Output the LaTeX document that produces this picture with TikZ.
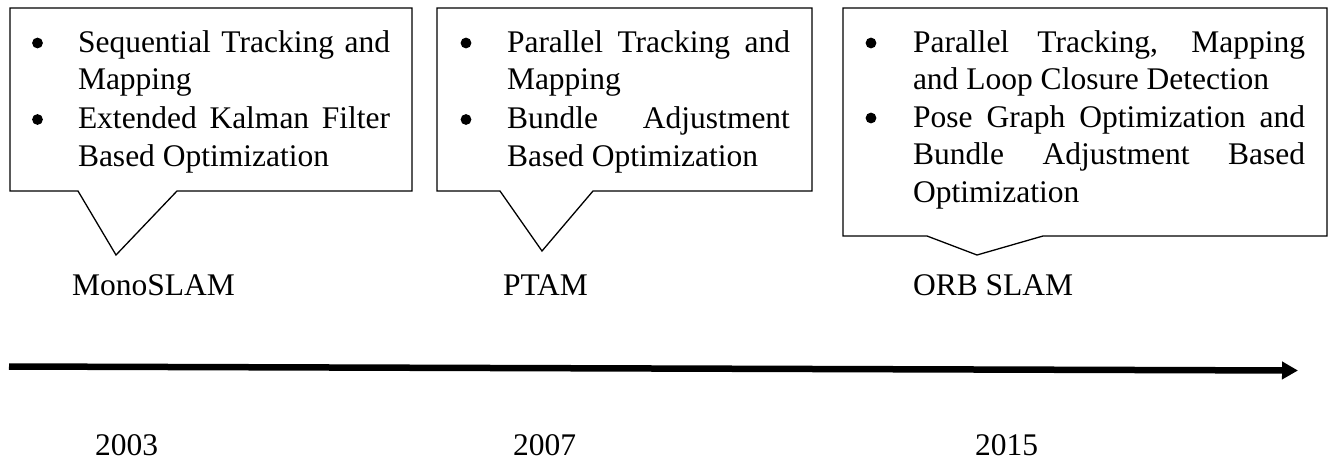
\documentclass[tikz,border=0pt]{standalone}
\usepackage{fontspec}
\setmainfont{Liberation Serif}
\usetikzlibrary{arrows.meta}

\begin{document}
\begin{tikzpicture}[x=1pt,y=-1pt,
  txt/.style={anchor=base west,inner sep=0pt,outer sep=0pt,
    font=\fontsize{31.5}{37.5}\selectfont},
  callout/.style={draw=black,line width=1.3pt,line join=miter,fill=white},
  dot/.style={fill=black},
  timeline/.style={line width=6.5pt,-{Triangle[length=16pt,width=17pt]}}]
  \useasboundingbox (0,0) rectangle (1333,461);

  % ---- callout boxes with downward pointers ----
  \draw[callout] (10,8) -- (412,8) -- (412,191) -- (177,191) -- (116,255)
    -- (78,191) -- (10,191) -- cycle;
  \draw[callout] (437,8) -- (812,8) -- (812,191) -- (593,191) -- (542,251)
    -- (500,191) -- (437,191) -- cycle;
  \draw[callout] (843,8) -- (1327,8) -- (1327,236) -- (1043,236) -- (977,255)
    -- (927,236) -- (843,236) -- cycle;

  % ---- bullets ----
  \foreach \bx/\by in {37.5/43, 37.5/119.5, 466/43, 466/119.5, 871/43, 871/118}
    \fill[dot] (\bx,\by) circle[radius=5.4pt];

  % ---- MonoSLAM callout text ----
  \node[txt] (m1) at (78,52)    {\makebox[312pt][s]{Sequential Tracking and}};
  \node[txt] (m2) at (78,89.5)  {Mapping};
  \node[txt] (m3) at (78,128)   {\makebox[312pt][s]{Extended Kalman Filter}};
  \node[txt] (m4) at (78,166)   {Based Optimization};

  % ---- PTAM callout text ----
  \node[txt] (p1) at (507,52)   {\makebox[283pt][s]{Parallel Tracking and}};
  \node[txt] (p2) at (507,89.5) {Mapping};
  \node[txt] (p3) at (507,128)  {\makebox[283pt][s]{Bundle Adjustment}};
  \node[txt] (p4) at (507,166)  {Based Optimization};

  % ---- ORB SLAM callout text ----
  \node[txt] (o1) at (913,52)   {\makebox[392pt][s]{Parallel Tracking, Mapping}};
  \node[txt] (o2) at (913,89.5) {and Loop Closure Detection};
  \node[txt] (o3) at (913,127)  {\makebox[392pt][s]{Pose Graph Optimization and}};
  \node[txt] (o4) at (913,164.5){\makebox[392pt][s]{Bundle Adjustment Based}};
  \node[txt] (o5) at (913,202)  {Optimization};

  % ---- system names ----
  \node[txt] (mono) at (72,295)  {MonoSLAM};
  \node[txt] (ptam) at (503,295) {PTAM};
  \node[txt] (orb)  at (913,295) {ORB SLAM};

  % ---- time axis ----
  \coordinate (tstart) at (9,366.5);
  \coordinate (tend)   at (1298,370.5);
  \draw[timeline] (tstart) -- (tend);

  % ---- years ----
  \node[txt] (y2003) at (95,455)  {2003};
  \node[txt] (y2007) at (513,455) {2007};
  \node[txt] (y2015) at (975,455) {2015};
\end{tikzpicture}
\end{document}
